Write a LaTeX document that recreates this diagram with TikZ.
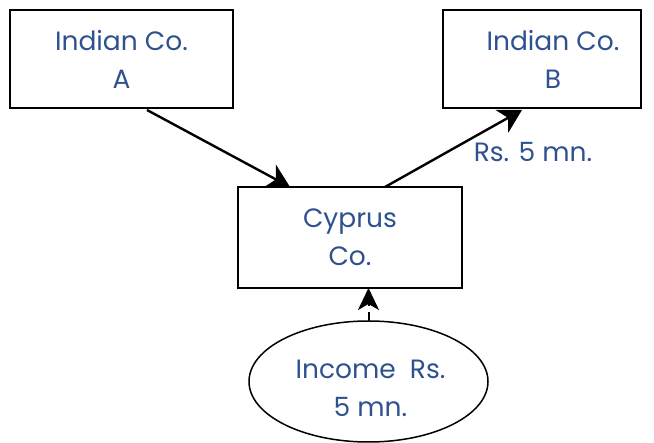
\documentclass[tikz,border=0pt]{standalone}
\usepackage{fontspec}
\setmainfont{Poppins}
\usetikzlibrary{arrows.meta,shapes.geometric}
\definecolor{txt}{RGB}{47,82,143}
\tikzset{
  box/.style={draw=black, line width=1.5pt, fill=white, align=center, text=txt, inner sep=0pt},
  lbl/.style={text=txt, font=\fontsize{26.5}{38}\selectfont},
  conn/.style={draw=black, line width=2.4pt, -{Stealth[length=23pt,width=26pt,inset=7pt]}},
}
\begin{document}
\begin{tikzpicture}[x=1pt,y=-1pt]
\useasboundingbox (0,0) rectangle (654,443);
\node[box, minimum width=223pt, minimum height=98pt, lbl] (a) at (121.5,59) {Indian Co.\\A};
\node[box, minimum width=198pt, minimum height=98pt, lbl] (b) at (542,59) {\hspace*{22pt}Indian Co.\\\hspace*{22pt}B};
\node[box, minimum width=224pt, minimum height=101pt, lbl] (c) at (350,237.5) {Cyprus\\Co.};
\node[ellipse, draw=black, line width=1.5pt, minimum width=239pt, minimum height=121pt, inner sep=0pt,
      label={[lbl, align=center, yshift=-7pt, xshift=2pt]center:{Income\ \ Rs.\\5 mn.}}] (d) at (368.5,381.5) {};
\node[lbl] (r) at (533,152) {Rs. 5 mn.};
\coordinate (a1) at (147,110);
\coordinate (c1) at (290,187);
\coordinate (c2) at (385,187);
\coordinate (b1) at (522,110);
\coordinate (d1) at (368.5,321);
\coordinate (c3) at (368.5,288);
\draw[conn] (a1) -- (c1);
\draw[conn] (c2) -- (b1);
\draw[conn, line width=2pt, dash pattern=on 9pt off 6pt, -{Stealth[length=22pt,width=21pt,inset=6pt]}] (d1) -- (c3);
\end{tikzpicture}
\end{document}
